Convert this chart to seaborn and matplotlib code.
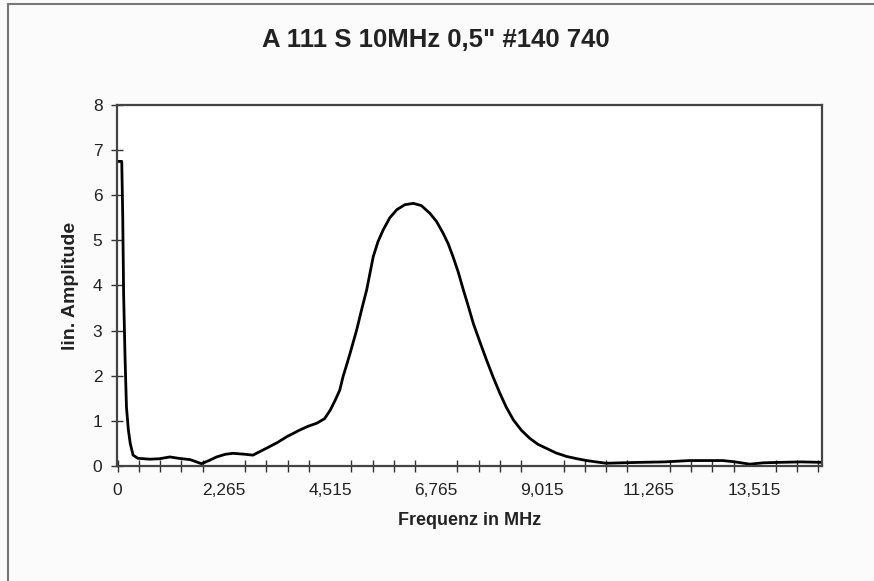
import matplotlib
matplotlib.use('Agg')
import matplotlib.pyplot as plt
import seaborn as sns
import pandas as pd
from matplotlib.patches import Rectangle

# Spectrum (frequency in MHz, linear amplitude)
freq_mhz = [0.0, 0.1, 0.12, 0.14, 0.17, 0.2, 0.24, 0.28, 0.34, 0.44, 0.7, 0.9,
            1.12, 1.3, 1.55, 1.79, 1.95, 2.11, 2.3, 2.46, 2.7, 2.88, 3.18, 3.4,
            3.6, 3.88, 4.05, 4.24, 4.4, 4.52, 4.62, 4.72, 4.79, 4.86, 4.94,
            5.08, 5.18, 5.29, 5.43, 5.53, 5.64, 5.78, 5.93, 6.1, 6.28, 6.45,
            6.63, 6.77, 6.91, 7.02, 7.12, 7.23, 7.34, 7.45, 7.55, 7.7, 7.83,
            7.97, 8.11, 8.25, 8.4, 8.57, 8.75, 8.92, 9.1, 9.3, 9.53, 9.75,
            9.95, 10.15, 10.37, 10.7, 11.08, 11.6, 12.14, 12.84, 13.1, 13.41,
            13.7, 14.05, 14.5, 14.94]
amplitude = [6.75, 6.75, 5.6, 3.8, 2.4, 1.3, 0.8, 0.5, 0.24, 0.17, 0.15, 0.16,
             0.2, 0.17, 0.14, 0.05, 0.12, 0.2, 0.26, 0.28, 0.26, 0.24, 0.4, 0.52,
             0.65, 0.8, 0.88, 0.95, 1.05, 1.24, 1.45, 1.68, 1.98, 2.22, 2.5,
             3.02, 3.45, 3.9, 4.64, 4.97, 5.23, 5.5, 5.68, 5.79, 5.82, 5.77,
             5.6, 5.42, 5.16, 4.92, 4.64, 4.3, 3.9, 3.52, 3.16, 2.72, 2.35,
             1.97, 1.62, 1.3, 1.02, 0.79, 0.61, 0.48, 0.39, 0.29, 0.21, 0.16,
             0.12, 0.09, 0.06, 0.07, 0.08, 0.09, 0.12, 0.12, 0.09, 0.04, 0.07,
             0.08, 0.09, 0.08]

x_tick_pos = [0, 2.265, 4.515, 6.765, 9.015, 11.265, 13.515]
x_tick_labels = ['0', '2,265', '4,515', '6,765', '9,015', '11,265', '13,515']
y_ticks = [0, 1, 2, 3, 4, 5, 6, 7, 8]

df = pd.DataFrame({'Frequenz': freq_mhz, 'Amplitude': amplitude})

sns.set_theme(style='white')
plt.rcParams['font.family'] = ['Liberation Sans', 'DejaVu Sans']

fig = plt.figure(figsize=(8.74, 5.81), dpi=100, facecolor='#fbfbfb')
ax = fig.add_axes([0.1339, 0.198, 0.8066, 0.6213])
ax.set_facecolor('white')

sns.lineplot(data=df, x='Frequenz', y='Amplitude', color='black', linewidth=2, ax=ax)

ax.set_xlim(0, 14.94)
ax.set_ylim(0, 8)
ax.set_xticks(x_tick_pos)
ax.set_xticklabels(x_tick_labels)
ax.set_xticks([0.015 + 0.45 * k for k in range(34)], minor=True)
ax.set_yticks(y_ticks)
ax.tick_params(axis='both', which='both', direction='inout', length=9, width=1,
               color='#333333', labelsize=12.5, labelcolor='#222222',
               bottom=True, left=True)
ax.tick_params(axis='x', which='major', length=0, pad=12)
ax.tick_params(axis='x', which='minor', length=9)
ax.tick_params(axis='y', pad=6)
for side in ax.spines.values():
    side.set_color('#444444')
    side.set_linewidth(1.6)

ax.set_xlabel('Frequenz in MHz', fontsize=13, fontweight='bold', color='#222222', labelpad=10)
ax.set_ylabel('lin. Amplitude', fontsize=14, fontweight='bold', color='#222222', labelpad=10)
fig.text(0.499, 0.931, 'A 111 S 10MHz 0,5" #140 740', ha='center', va='center',
         fontsize=18.5, fontweight='bold', color='#222222')

# Excel chart-area frame from the scan
fig.add_artist(Rectangle((8 / 874, -0.1), 1.2, 1.1 - 4 / 581, transform=fig.transFigure,
                         fill=False, edgecolor='#777777', linewidth=1.5))

fig.savefig('out.png', dpi=100, facecolor=fig.get_facecolor())
